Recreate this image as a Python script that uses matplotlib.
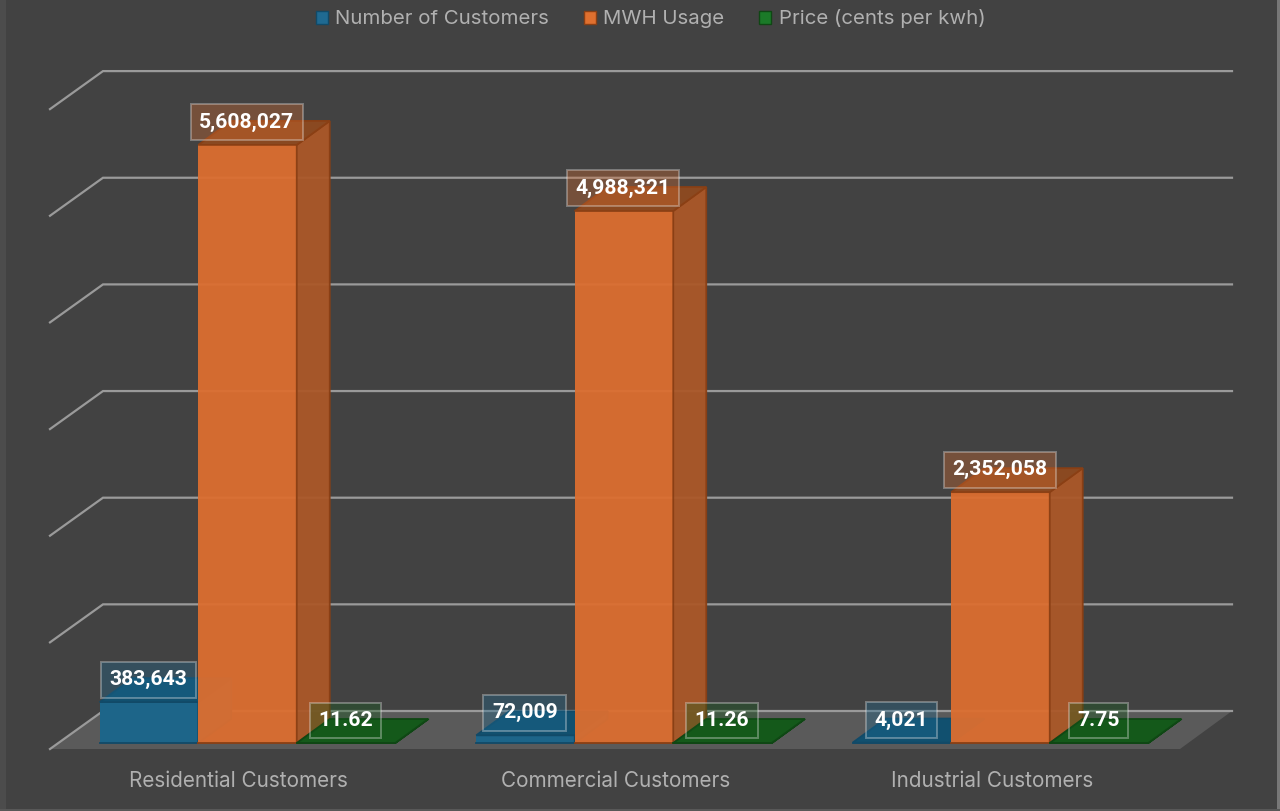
import matplotlib
matplotlib.use('Agg')
import matplotlib.pyplot as plt
from matplotlib.patches import Rectangle, Patch
from matplotlib.transforms import ScaledTranslation

categories = ['Residential Customers', 'Commercial Customers', 'Industrial Customers']
series_names = ['Number of Customers', 'MWH Usage', 'Price (cents per kwh)']
customers = [383643, 72009, 4021]
usage = [5608027, 4988321, 2352058]
price = [11.62, 11.26, 7.75]
customer_labels = ['383,643', '72,009', '4,021']
usage_labels = ['5,608,027', '4,988,321', '2,352,058']
price_labels = ['11.62', '11.26', '7.75']
grid_values = [0, 1000000, 2000000, 3000000, 4000000, 5000000, 6000000]

BG = '#424242'
TEXT = '#b0b0b0'
GRID = '#9a9a9a'
FONT = 'Inter'

W, H = 1280, 811
# scale of the axes, in pixels
PX_PER_CAT = 376.5
PX_PER_VALUE = 106.65 / 1000000
LEFT, RIGHT, BASE = 6, 1277, 743
CAT0 = 247.5

def dx(px):
    return px / PX_PER_CAT

def dy(px):
    return px / PX_PER_VALUE

fig = plt.figure(figsize=(W / 100, H / 100), dpi=100, facecolor=BG)
ax = fig.add_axes([LEFT / W, 1 - BASE / H, (RIGHT - LEFT) / W, BASE / H])
ax.set_facecolor(BG)
ax.set_xlim((LEFT - CAT0) / PX_PER_CAT, (RIGHT - CAT0) / PX_PER_CAT)
ax.set_ylim(0, dy(BASE))
for s in ax.spines.values():
    s.set_visible(False)
ax.set_yticks([])
ax.set_xticks(range(3), categories)
ax.tick_params(axis='x', length=0, pad=20, labelsize=14.9, labelcolor=TEXT)
for lab, off in zip(ax.get_xticklabels(), [-9, -8, -8]):
    lab.set_fontfamily(FONT)
    lab.set_transform(lab.get_transform() + ScaledTranslation(off / 100, 0, fig.dpi_scale_trans))

# floor and back wall
x_front_l, x_back_l = dx(50 - CAT0), dx(103 - CAT0)
x_back_r, x_front_r = dx(1232 - CAT0), dx(1180 - CAT0)
floor_front, floor_back = dy(-6), dy(32)
ax.fill([x_front_l, x_back_l, x_back_r, x_front_r],
        [floor_front, floor_back, floor_back, floor_front],
        color='#5a5a5a', lw=0, clip_on=False, zorder=1)
for v in grid_values:
    y = floor_back + v
    ax.plot([x_front_l, x_back_l, x_back_r], [floor_front + v, y, y],
            color=GRID, lw=1.6, solid_joinstyle='miter', clip_on=False, zorder=1.5)

bar_w = dx(98.5)
depth_x, depth_y = dx(33), dy(24)

def box3d(x0, value, front, side, top, edge, z, alpha=1.0):
    x1 = x0 + bar_w
    ax.bar(x0, value, width=bar_w, align='edge', color=front, lw=0,
           alpha=alpha, zorder=z, clip_on=False)
    ax.fill([x1, x1 + depth_x, x1 + depth_x, x1],
            [0, depth_y, value + depth_y, value],
            facecolor=side, edgecolor=edge, lw=1.3, alpha=alpha, zorder=z + 0.1, clip_on=False)
    ax.fill([x0, x0 + depth_x, x1 + depth_x, x1],
            [value, value + depth_y, value + depth_y, value],
            facecolor=top, edgecolor=edge, lw=1.3, alpha=alpha, zorder=z + 0.2, clip_on=False)
    ax.plot([x0, x1], [0, 0], color=edge, lw=1.3, zorder=z + 0.3, clip_on=False)

def tag(x, value, text, color):
    ax.annotate(text, (x, value), xytext=(-0.5, 22.5 * 0.72), textcoords='offset points',
                ha='center', va='center', color='white', fontsize=15.2, fontweight='bold',
                family='Roboto', zorder=10,
                bbox=dict(boxstyle='square,pad=0.4', facecolor=color, alpha=0.35,
                          edgecolor='#e8e8e8', lw=1.4))

for i in range(3):
    x_blue = i - 1.5 * bar_w
    x_orange = i - 0.5 * bar_w
    x_green = i + 0.5 * bar_w
    box3d(x_blue, customers[i], '#1d6589', '#1a5d80', '#11506f', '#114a68', 2)
    box3d(x_orange, usage[i], '#dc6e30', '#ab5828', '#8f4a20', '#8a3f14', 3, alpha=0.95)
    # price shares the axis with the big series, so its bar stays flat on the floor
    box3d(x_green, price[i], '#14591a', '#14591a', '#14591a', '#0f4714', 4)

for i in range(3):
    tag(i - bar_w, customers[i], customer_labels[i], '#1f6a92')
    tag(i, usage[i], usage_labels[i], '#d66c30')
    tag(i + bar_w, price[i], price_labels[i], '#14591a')

handles = [Patch(facecolor='#1f6a92', edgecolor='#114a68', lw=1),
           Patch(facecolor='#e0702f', edgecolor='#8a3f14', lw=1),
           Patch(facecolor='#1b7a28', edgecolor='#0f4714', lw=1)]
leg = ax.legend(handles, series_names, ncol=3, loc='center', frameon=False,
                bbox_to_anchor=(650.5 / W, 1 - 19 / H), bbox_transform=fig.transFigure,
                prop={'family': FONT, 'size': 14.7}, labelcolor=TEXT,
                handlelength=0.62, handleheight=0.62, handletextpad=0.35, columnspacing=1.68)

# slightly lighter edges around the panel
edges = [((0, 0), LEFT / W, 1, '#4c4c4c'),
         ((RIGHT / W, 0), 1 - RIGHT / W, 1, '#777777'),
         ((0, 0), 1, 2 / H, '#585858')]
for xy, w, h, c in edges:
    fig.add_artist(Rectangle(xy, w, h, transform=fig.transFigure, facecolor=c, lw=0))

fig.savefig('out.png', dpi=100, facecolor=BG)
